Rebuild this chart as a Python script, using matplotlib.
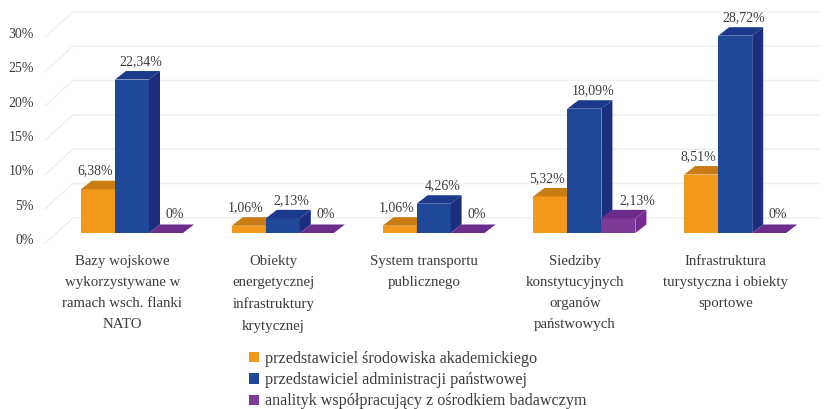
import matplotlib
matplotlib.use("Agg")
import matplotlib.pyplot as plt
from matplotlib.patches import Polygon
from matplotlib.transforms import ScaledTranslation

categories = [
    "Bazy wojskowe\nwykorzystywane w\nramach wsch. flanki\nNATO",
    "Obiekty\nenergetycznej\ninfrastruktury\nkrytycznej",
    "System transportu\npublicznego",
    "Siedziby\nkonstytucyjnych\norganów\npaństwowych",
    "Infrastruktura\nturystyczna i obiekty\nsportowe",
]
academic = [6.38, 1.06, 1.06, 5.32, 8.51]
administration = [22.34, 2.13, 4.26, 18.09, 28.72]
analyst = [0, 0, 0, 2.13, 0]
series_names = [
    "przedstawiciel środowiska akademickiego",
    "przedstawiciel administracji państwowej",
    "analityk współpracujący z ośrodkiem badawczym",
]
yticks = [0, 5, 10, 15, 20, 25, 30]

W, H, DPI = 828, 409, 100
BASE_PX, LEFT_PX, GROUP_PX, CENTER_PX, PX_PER_UNIT = 233, 45, 150.8, 132, 6.87
FONT = "Liberation Serif"
TEXT = "#3c3c3c"

plt.rcParams["font.family"] = FONT
fig = plt.figure(figsize=(W / DPI, H / DPI), dpi=DPI, facecolor="white")
ax = fig.add_axes([LEFT_PX / W, (H - BASE_PX) / H, (W - LEFT_PX) / W, BASE_PX / H])
ax.set_xlim((LEFT_PX - CENTER_PX) / GROUP_PX, (W - CENTER_PX) / GROUP_PX)
ax.set_ylim(0, BASE_PX / PX_PER_UNIT)
for s in ax.spines.values():
    s.set_visible(False)

dx = 11 / GROUP_PX
dy = 8.5 / PX_PER_UNIT
bar_w = 34 / GROUP_PX

# back wall gridlines
x_front = ax.get_xlim()[0]
x_back = (73 - CENTER_PX) / GROUP_PX
x_end = (820 - CENTER_PX) / GROUP_PX
for v in yticks:
    ax.plot([x_front, x_back, x_end], [v - 1.5, v + 2.2, v + 2.2], color="#f0f0f0",
            lw=1.1, zorder=1, clip_on=False, solid_joinstyle="miter")

styles = [
    ("#F2981A", "#C97C12", "#C97C12", -1, -3),
    ("#1F4899", "#1C3A8C", "#1B2F7E", 0, 9),
    ("#7D3B98", "#6B2C8C", "#752A92", 1, 9),
]
values = [academic, administration, analyst]

for (front, top, side, pos, lab_dx), vals, name in zip(styles, values, series_names):
    xs = [i + pos * bar_w for i in range(len(vals))]
    ax.bar(xs, vals, width=bar_w, color=front, zorder=3 + pos, label=name, linewidth=0)
    for x, v in zip(xs, vals):
        l, r = x - bar_w / 2, x + bar_w / 2
        ax.add_patch(Polygon([(l, v), (r, v), (r + dx, v + dy), (l + dx, v + dy)],
                             facecolor=top, edgecolor="none", zorder=3 + pos))
        ax.add_patch(Polygon([(r, 0), (r + dx, dy), (r + dx, v + dy), (r, v)],
                             facecolor=side, edgecolor="none", zorder=3 + pos))
        extra = 10 if (pos == 1 and v > 0) else 0
        label = f"{v:.2f}".replace(".", ",") + "%" if v else "0%"
        ax.annotate(label, (x, v), xytext=(lab_dx + extra, 18), textcoords="offset pixels",
                    ha="center", va="center", fontsize=10, color=TEXT, zorder=10,
                    annotation_clip=False)

ax.set_yticks(yticks)
ax.set_yticklabels([f"{v}%" for v in yticks], fontsize=10, color=TEXT)
ax.set_xticks(range(len(categories)))
ax.set_xticklabels(categories, fontsize=10.7, color=TEXT, linespacing=1.82)
ax.tick_params(axis="both", length=0)
ax.tick_params(axis="y", pad=8)
ax.tick_params(axis="x", pad=15.5)
shift = ScaledTranslation(0, -6 / DPI, fig.dpi_scale_trans)
for t in ax.get_yticklabels():
    t.set_transform(t.get_transform() + shift)
xshift = ScaledTranslation(-9.5 / DPI, 0, fig.dpi_scale_trans)
for t in ax.get_xticklabels():
    t.set_transform(t.get_transform() + xshift)

ax.legend(loc="upper left", bbox_to_anchor=(249 / W, (H - 351) / H),
          bbox_transform=fig.transFigure, frameon=False, fontsize=11.6, labelcolor=TEXT,
          handlelength=0.6, handleheight=0.6, handletextpad=0.4,
          labelspacing=0.32, borderpad=0, borderaxespad=0)

fig.savefig("out.png", dpi=DPI)
